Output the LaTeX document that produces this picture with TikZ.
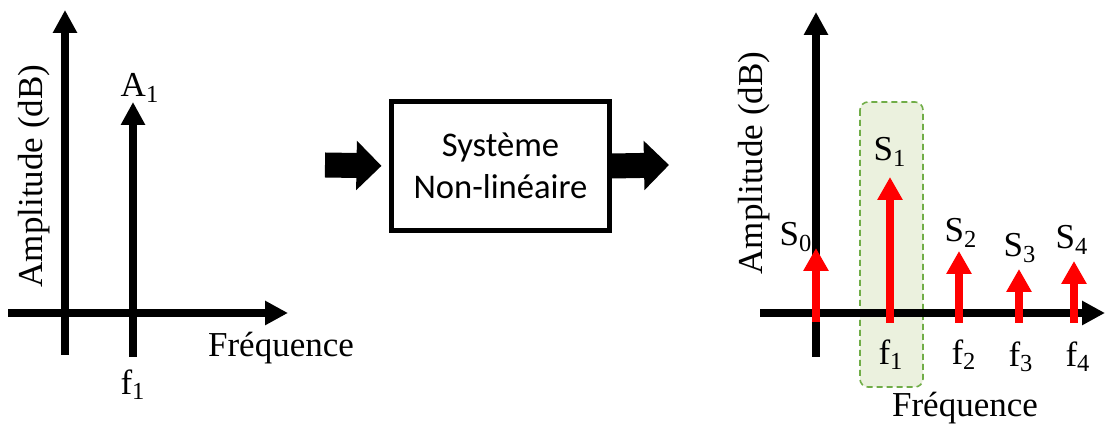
\documentclass[tikz,border=0pt]{standalone}
\usepackage{fontspec}
\setmainfont{Liberation Serif}
\newfontfamily\calib{Carlito}
\usetikzlibrary{arrows.meta}
\definecolor{spkred}{HTML}{FF0000}
\definecolor{selgreen}{HTML}{70AD47}
\definecolor{selfill}{HTML}{EBF1DE}

\begin{document}
\begin{tikzpicture}[
  x=0.5pt, y=-0.5pt,
  axis/.style={line width=4pt, -{Triangle[length=11.5pt, width=11.5pt]}},
  spike/.style={line width=4pt, spkred, -{Triangle[length=11.5pt, width=12pt]}},
  blockarr/.style={line width=12.5pt, -{Triangle[length=12.5pt, width=24pt]}},
  sysbox/.style={draw, line width=2.5pt, minimum width=109pt, minimum height=64.5pt,
    align=center, font=\calib\fontsize{17.3}{21}\selectfont},
  lbl/.style={font=\fontsize{17.5}{21}\selectfont, inner sep=0pt},
]

\useasboundingbox (0,0) rectangle (1105,431);

% === Left: input spectrum ===
\draw[axis] (8,313) -- (288,313);
\draw[axis] (65,355) -- (65,10);
\draw[axis] (133,357) -- (133,102);

\node[lbl] (a1) at (140,88) {A\textsubscript{1}};
\node[lbl] (lf1) at (133,385) {f\textsubscript{1}};
\node[lbl] (lfreq) at (281,348) {Fréquence};
\node[lbl, rotate=90] (lamp) at (34,176) {Amplitude (dB)};

% === Middle: system block ===
\node[sysbox] (sys) at (500.5,166) {Système\\Non-linéaire};

\coordinate (in) at (325,165);
\coordinate (out) at (669,165);
\draw[blockarr, shorten >=3.75pt] (in) -- (sys.west);
\draw[blockarr] (sys.east) -- (out);

% === Right: output spectrum ===
\draw[selgreen, line width=0.8pt, dash pattern=on 3pt off 2pt, fill=selfill,
  rounded corners=4pt] (860,102) rectangle (923,387);

\draw[axis] (760,313) -- (1105,313);
\draw[axis] (816,357) -- (816,12);

\draw[spike] (816,322) -- (816,248);
\draw[spike] (890,323) -- (890,177);
\draw[spike] (959,323) -- (959,251);
\draw[spike] (1019,323) -- (1019,269);
\draw[spike] (1074,323) -- (1074,261);

\node[lbl] (s0) at (796,237) {S\textsubscript{0}};
\node[lbl] (s1) at (890,152) {S\textsubscript{1}};
\node[lbl] (s2) at (961,233) {S\textsubscript{2}};
\node[lbl] (s3) at (1020,248) {S\textsubscript{3}};
\node[lbl] (s4) at (1072,240) {S\textsubscript{4}};

\node[lbl] (rf1) at (891,355) {f\textsubscript{1}};
\node[lbl] (rf2) at (964,355) {f\textsubscript{2}};
\node[lbl] (rf3) at (1021,357) {f\textsubscript{3}};
\node[lbl] (rf4) at (1078,357) {f\textsubscript{4}};

\node[lbl] (rfreq) at (965,408) {Fréquence};
\node[lbl, rotate=90] (ramp) at (754,163) {Amplitude (dB)};

\end{tikzpicture}
\end{document}
